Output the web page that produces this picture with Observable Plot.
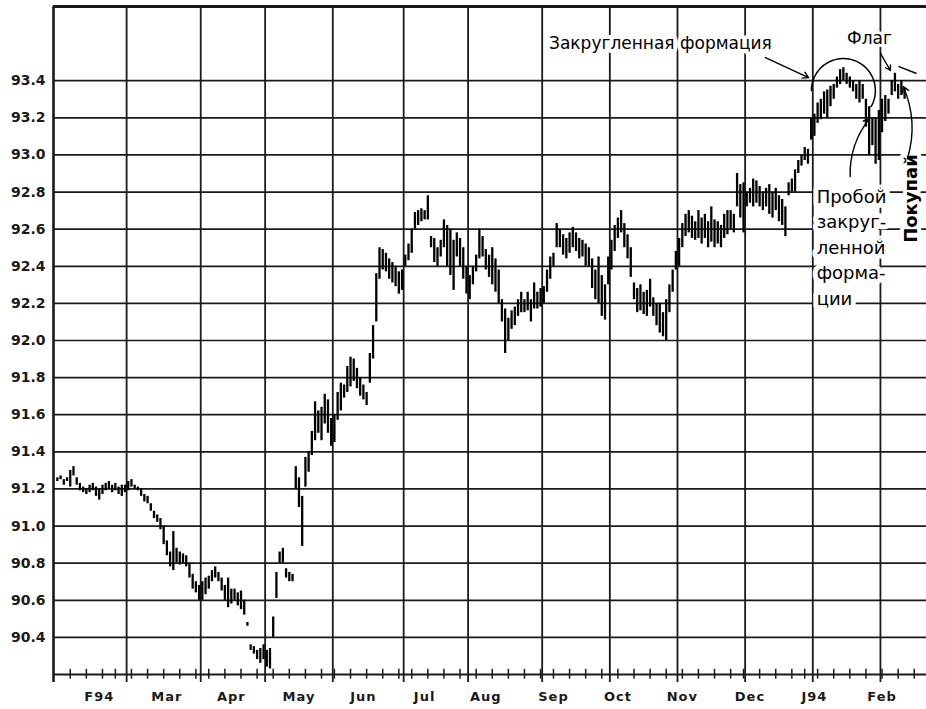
<!DOCTYPE html>
<html><head><meta charset="utf-8">
<script src="https://cdn.jsdelivr.net/npm/d3@7"></script>
<script src="https://cdn.jsdelivr.net/npm/@observablehq/plot@0.6"></script>
<style>
html,body{margin:0;padding:0;background:#fff;}
#chart svg{display:block;}
#chart g[aria-label="x-axis tick label"] text{letter-spacing:1px;}
</style></head><body><div id="chart"></div>
<script>
// Daily bars [low, high], consecutive trading days starting 27 Jan 1994
const barsFeb94 = [[91.24,91.26],[91.25,91.27],[91.22,91.25],[91.24,91.26],[91.21,91.30],[91.27,91.32],[91.22,91.26],[91.19,91.23],[91.18,91.21],[91.17,91.20],[91.18,91.22],[91.19,91.23],[91.16,91.21],[91.14,91.20],[91.17,91.22],[91.19,91.23],[91.20,91.24],[91.18,91.22],[91.19,91.23],[91.17,91.21],[91.16,91.22]];
const barsMar94 = [[91.18,91.22],[91.19,91.24],[91.21,91.25],[91.20,91.22],[91.19,91.21],[91.16,91.20],[91.13,91.17],[91.12,91.16],[91.08,91.12],[91.04,91.08],[91.02,91.06],[90.98,91.04],[90.90,91.00],[90.84,90.92],[90.78,90.86],[90.76,90.97],[90.80,90.88],[90.79,90.86],[90.80,90.85],[90.78,90.84],[90.72,90.80],[90.66,90.74],[90.64,90.70]];
const barsApr94 = [[90.60,90.68],[90.60,90.70],[90.63,90.72],[90.66,90.73],[90.70,90.76],[90.72,90.78],[90.70,90.75],[90.65,90.72],[90.60,90.68],[90.56,90.72],[90.58,90.66],[90.60,90.66],[90.57,90.64],[90.55,90.65],[90.52,90.60],[90.46,90.48],[90.33,90.36],[90.31,90.35],[90.28,90.33],[90.26,90.34]];
const barsMay94 = [[90.28,90.36],[90.24,90.33],[90.23,90.34],[90.40,90.51],[90.61,90.75],[90.80,90.86],[90.80,90.88],[90.72,90.77],[90.70,90.75],[90.70,90.74],[91.20,91.32],[91.10,91.26],[90.89,91.16],[91.21,91.37],[91.29,91.40],[91.38,91.51],[91.46,91.67],[91.50,91.62],[91.46,91.64],[91.55,91.71],[91.50,91.68]];
const barsJun94 = [[91.43,91.58],[91.45,91.60],[91.57,91.72],[91.62,91.77],[91.69,91.76],[91.72,91.86],[91.75,91.91],[91.78,91.90],[91.74,91.85],[91.70,91.80],[91.68,91.76],[91.65,91.72],[91.77,91.93],[91.90,92.08],[92.10,92.36],[92.33,92.50],[92.38,92.49],[92.37,92.47],[92.33,92.44],[92.31,92.42],[92.29,92.40],[92.25,92.37]];
const barsJul94 = [[92.27,92.38],[92.40,92.46],[92.43,92.52],[92.47,92.60],[92.60,92.69],[92.62,92.70],[92.64,92.71],[92.65,92.70],[92.65,92.78],[92.50,92.56],[92.42,92.55],[92.40,92.50],[92.45,92.54],[92.50,92.65],[92.40,92.62],[92.35,92.60],[92.27,92.54],[92.45,92.58],[92.40,92.55],[92.33,92.50]];
const barsAug94 = [[92.25,92.40],[92.22,92.35],[92.30,92.40],[92.37,92.46],[92.44,92.60],[92.45,92.56],[92.38,92.49],[92.34,92.46],[92.30,92.50],[92.26,92.44],[92.20,92.38],[92.10,92.22],[91.93,92.17],[92.00,92.12],[92.06,92.16],[92.08,92.18],[92.13,92.22],[92.15,92.26],[92.15,92.22],[92.16,92.26],[92.10,92.22],[92.17,92.31],[92.17,92.26]];
const barsSep94 = [[92.18,92.28],[92.20,92.29],[92.26,92.38],[92.33,92.45],[92.40,92.47],[92.50,92.63],[92.50,92.60],[92.46,92.57],[92.44,92.55],[92.47,92.58],[92.50,92.61],[92.48,92.58],[92.44,92.55],[92.45,92.54],[92.40,92.52],[92.40,92.50],[92.28,92.44],[92.22,92.38],[92.20,92.45],[92.13,92.35],[92.11,92.30]];
const barsOct94 = [[92.30,92.45],[92.38,92.54],[92.48,92.62],[92.55,92.66],[92.58,92.70],[92.50,92.63],[92.44,92.57],[92.34,92.50],[92.22,92.31],[92.15,92.28],[92.16,92.30],[92.14,92.26],[92.13,92.27],[92.18,92.33],[92.13,92.23],[92.08,92.20],[92.04,92.20],[92.02,92.15],[92.00,92.22],[92.15,92.30],[92.26,92.38]];
const barsNov94 = [[92.38,92.48],[92.40,92.55],[92.50,92.63],[92.56,92.68],[92.58,92.70],[92.55,92.67],[92.54,92.64],[92.55,92.70],[92.52,92.66],[92.55,92.68],[92.50,92.64],[92.53,92.72],[92.50,92.65],[92.52,92.64],[92.50,92.62],[92.55,92.68],[92.57,92.70],[92.60,92.70],[92.58,92.68],[92.72,92.90],[92.66,92.84]];
const barsDec94 = [[92.58,92.85],[92.72,92.80],[92.74,92.82],[92.72,92.87],[92.74,92.86],[92.72,92.83],[92.70,92.80],[92.72,92.82],[92.68,92.84],[92.66,92.80],[92.70,92.82],[92.64,92.78],[92.62,92.76],[92.56,92.72],[92.78,92.85],[92.80,92.87],[92.80,92.92],[92.90,92.97],[92.94,93.00],[92.97,93.04],[92.95,93.03]];
const barsJan95 = [[93.08,93.20],[93.10,93.22],[93.17,93.28],[93.19,93.30],[93.22,93.34],[93.20,93.35],[93.26,93.37],[93.30,93.38],[93.36,93.42],[93.38,93.46],[93.40,93.47],[93.38,93.44],[93.36,93.42],[93.34,93.40],[93.30,93.38],[93.28,93.40],[93.30,93.38],[93.15,93.30],[93.00,93.26],[93.05,93.20],[92.95,93.20]];
const barsFeb95 = [[92.97,93.24],[93.12,93.30],[93.18,93.32],[93.22,93.30],[93.32,93.40],[93.34,93.44],[93.30,93.38],[93.32,93.40],[93.30,93.36]];

const yTicks = [90.4,90.6,90.8,91.0,91.2,91.4,91.6,91.8,92.0,92.2,92.4,92.6,92.8,93.0,93.2,93.4];
const monthLabels = ["F94","Mar","Apr","May","Jun","Jul","Aug","Sep","Oct","Nov","Dec","J94","Feb"];
const monthLabelDates = ["1994-02-15","1994-03-17","1994-04-15","1994-05-16","1994-06-14","1994-07-12","1994-08-08","1994-09-07","1994-10-05","1994-11-02","1994-12-02","1995-01-03","1995-02-01"];
const holidays = ["1994-02-21","1994-04-01","1994-05-30","1994-07-04","1994-09-05","1994-11-24","1994-12-26","1995-01-02","1995-02-20"];

// trading calendar: index 0 = 1 Feb 1994
const fmt = d3.utcFormat("%Y-%m-%d");
const tradingDays = d3.utcDays(new Date(Date.UTC(1994,0,27)), new Date(Date.UTC(1995,2,1)))
  .filter(d => d.getUTCDay() !== 0 && d.getUTCDay() !== 6 && !holidays.includes(fmt(d)));
const OFFSET = 3;
const idxOfDate = s => tradingDays.findIndex(d => fmt(d) === s) - OFFSET;

const allBars = [].concat(barsFeb94,barsMar94,barsApr94,barsMay94,barsJun94,barsJul94,barsAug94,barsSep94,barsOct94,barsNov94,barsDec94,barsJan95,barsFeb95);
const bars = allBars.map((b,k) => ({i: k - OFFSET, lo: b[0], hi: b[1]}));

const monthGrid = tradingDays
  .map((d,k) => ({d, k}))
  .filter(({d,k}) => k > OFFSET && d.getUTCMonth() !== tradingDays[k-1].getUTCMonth())
  .map(({k}) => k - OFFSET - 0.5);
const X0 = -4.2, X1 = 266.8;
const weekTicks = tradingDays.map((d,k) => ({d, i: k - OFFSET}))
  .filter(o => o.d.getUTCDay() === 3 && o.i > X0 && o.i < X1).map(o => o.i);
const labelIdx = monthLabelDates.map(idxOfDate);
const labelMap = new Map(labelIdx.map((v,k) => [v, monthLabels[k]]));

const Y0 = 90.2, Y1 = 93.8, YLOW = 90.157;
const ink = "#1a1a1a";
const FF = "DejaVu Sans";

// rounding formation arc (annotation)
const arc = d3.range(0, 61).map(k => {
  const t = Math.PI - k / 60 * (Math.PI + Math.PI / 6);
  return {x: 241.0 + 9.93 * Math.cos(t), y: 93.347 + 0.1725 * Math.sin(t)};
});

const plot = Plot.plot({
  width: 926, height: 709,
  marginLeft: 53, marginRight: 0, marginTop: 6, marginBottom: 35,
  style: {fontFamily: FF, background: "white", color: ink},
  x: {domain: [X0, X1], axis: null},
  y: {domain: [Y0, Y1], axis: null},
  marks: [
    Plot.ruleY(yTicks, {stroke: ink, strokeWidth: 1.7}),
    Plot.ruleX(monthGrid, {y1: YLOW, y2: Y1, stroke: ink, strokeWidth: 1.8}),
    Plot.ruleX(weekTicks, {y1: 90.175, y2: 90.228, stroke: ink, strokeWidth: 1.5}),
    Plot.ruleY([Y0], {stroke: ink, strokeWidth: 2}),
    Plot.ruleY([Y1], {stroke: ink, strokeWidth: 3.2}),
    Plot.ruleX([X0], {y1: YLOW, y2: Y1, stroke: ink, strokeWidth: 2.6}),
    Plot.ruleX(bars, {x: "i", y1: "lo", y2: "hi", stroke: "black", strokeWidth: 2.3}),
    Plot.axisY(yTicks, {anchor: "left", tickSize: 0, tickPadding: 8, tickFormat: d3.format(".1f"),
      fontSize: 14, fontWeight: "bold", fontFamily: FF, fill: ink}),
    Plot.axisX(labelIdx, {anchor: "bottom", tickSize: 0, tickPadding: 17, tickFormat: d => labelMap.get(d),
      fontSize: 13, fontWeight: "bold", fontFamily: FF, fill: ink}),
    // annotations
    Plot.text(["Закругленная формация"], {x: 184.2, y: 93.60, fontSize: 17, fontFamily: FF, fill: "black",
      stroke: "white", strokeWidth: 8, textAnchor: "middle"}),
    Plot.arrow([{x1: 216.8, y1: 93.525, x2: 230.2, y2: 93.417}], {x1: "x1", y1: "y1", x2: "x2", y2: "y2",
      stroke: "black", strokeWidth: 1.4, headLength: 7}),
    Plot.line(arc, {x: "x", y: "y", stroke: "black", strokeWidth: 1.5}),
    Plot.text(["Флаг"], {x: 249.1, y: 93.628, fontSize: 17, fontFamily: FF, fill: "black",
      stroke: "white", strokeWidth: 6, textAnchor: "middle"}),
    Plot.arrow([{x1: 252.5, y1: 93.547, x2: 255.6, y2: 93.455}], {x1: "x1", y1: "y1", x2: "x2", y2: "y2",
      stroke: "black", strokeWidth: 1.4, headLength: 6}),
    Plot.link([{x1: 258.1, y1: 93.477, x2: 263.7, y2: 93.439}], {x1: "x1", y1: "y1", x2: "x2", y2: "y2",
      stroke: "black", strokeWidth: 1.4}),
    Plot.text(["Пробой\nзакруг-\nленной\nформа-\nции"], {x: 232.7, y: 92.512, fontSize: 18, fontFamily: FF,
      lineHeight: 1.42, textAnchor: "start", lineAnchor: "middle", fill: "black", stroke: "white", strokeWidth: 10}),
    Plot.arrow([{x1: 243.1, y1: 92.884, x2: 249.1, y2: 93.196}], {x1: "x1", y1: "y1", x2: "x2", y2: "y2",
      stroke: "black", strokeWidth: 1.4, headLength: 7, bend: 20}),
    Plot.text(["Покупай"], {x: 262.1, y: 92.765, rotate: -90, fontSize: 18, fontWeight: "bold", fontFamily: FF,
      fill: "black", stroke: "white", strokeWidth: 8, textAnchor: "middle"}),
    Plot.arrow([{x1: 260.9, y1: 92.981, x2: 259.6, y2: 93.369}], {x1: "x1", y1: "y1", x2: "x2", y2: "y2",
      stroke: "black", strokeWidth: 1.4, headLength: 7, bend: -20})
  ]
});
document.getElementById("chart").appendChild(plot);
</script>
</body></html>
